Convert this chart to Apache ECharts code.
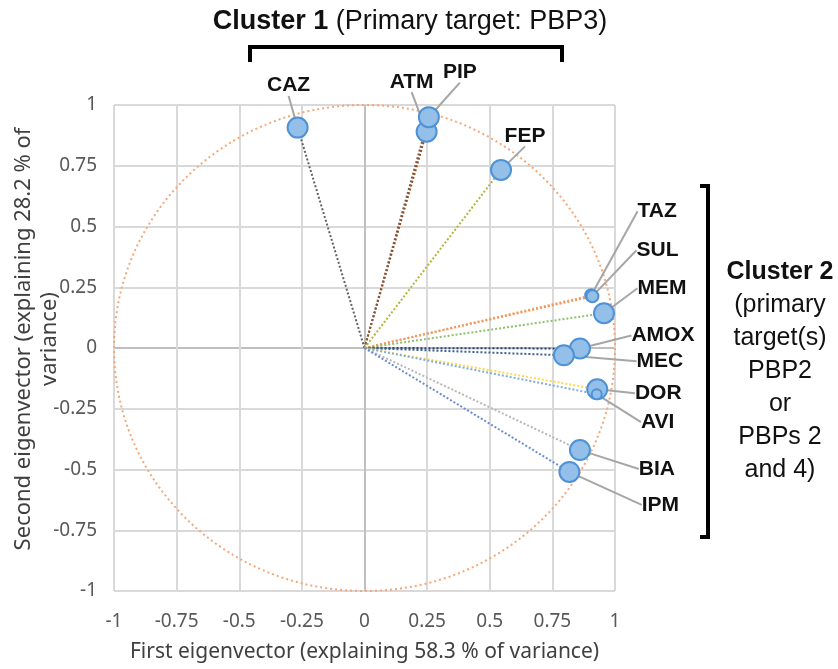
<!DOCTYPE html>
<html>
<head>
<meta charset="utf-8">
<script src="https://cdn.jsdelivr.net/npm/echarts@6/dist/echarts.min.js"></script>
<style>
html, body { margin: 0; background: #fff; }
#chart { width: 838px; height: 669px; }
</style>
</head>
<body>
<div id="chart"></div>
<script>
// loadings of each drug on the first two eigenvectors
var drugs = ['CAZ', 'ATM', 'PIP', 'FEP', 'TAZ', 'SUL', 'MEM', 'AMOX', 'MEC', 'DOR', 'AVI', 'BIA', 'IPM'];
var eigen1 = [-0.267, 0.248, 0.257, 0.545, 0.905, 0.91, 0.956, 0.86, 0.796, 0.929, 0.927, 0.86, 0.818];
var eigen2 = [0.907, 0.89, 0.95, 0.733, 0.217, 0.213, 0.143, -0.002, -0.03, -0.17, -0.19, -0.42, -0.51];
var bubble = [1, 1, 1, 1, 0.6, 0.6, 1, 1, 1, 1, 0.5, 1, 1];
var ticks = [-1, -0.75, -0.5, -0.25, 0, 0.25, 0.5, 0.75, 1];

// styling / layout (not data)
var rayColors = ['#636363', '#9e480e', '#7a5a4a', '#b5b53a', '#f4a777', '#f1975a', '#8cc168',
                 '#264478', '#3f5f8f', '#ffd84d', '#7cafdd', '#b7b7b7', '#698ed0'];
var labelOffset = [[-9, -42], [-15, -50], [31, -45], [24, -34], [66, -84], [65, -46], [58, -25],
                   [83, -13], [96, 6], [61, 4], [61, 28], [77, 19], [91, 33]];

var chart = echarts.init(document.getElementById('chart'));

var gridLine = [];
ticks.forEach(function (t) { gridLine.push(t === 0 ? '#bfbfbf' : '#d9d9d9'); });

function axis() {
  return {
    type: 'value',
    min: ticks[0],
    max: ticks[ticks.length - 1],
    interval: ticks[1] - ticks[0],
    axisLine: { show: false },
    axisTick: { show: false },
    splitLine: { show: true, lineStyle: { color: gridLine, width: 2 } },
    axisLabel: { color: '#595959', fontSize: 19, fontFamily: 'Noto Sans' }
  };
}

var xAxis = axis();
xAxis.axisLabel.margin = 21;
xAxis.name = 'First eigenvector (explaining 58.3 % of variance)';
xAxis.nameLocation = 'middle';
xAxis.nameGap = 51;
xAxis.nameTextStyle = { color: '#404040', fontSize: 21, fontFamily: 'Noto Sans' };
var yAxis = axis();
yAxis.axisLabel.margin = 17;

var series = [];
drugs.forEach(function (d, i) {
  series.push({
    type: 'line',
    name: d,
    data: [[0, 0], [eigen1[i], eigen2[i]]],
    symbol: 'none',
    silent: true,
    animation: false,
    z: 2,
    lineStyle: { type: [2, 2], width: 2, color: rayColors[i] }
  });
});

series.push({
  type: 'scatter',
  animation: false,
  z: 5,
  data: drugs.map(function (d, i) { return { name: d, value: [eigen1[i], eigen2[i]] }; }),
  symbolSize: function (v, p) { return 20 * bubble[p.dataIndex]; },
  itemStyle: { color: '#93bfe8', borderColor: '#4e92d6', borderWidth: 2, opacity: 1 },
  label: {
    show: true,
    formatter: '{b}',
    position: 'inside',
    color: '#111',
    fontSize: 21,
    fontWeight: 'bold',
    fontFamily: 'Liberation Sans'
  },
  labelLayout: function (p) {
    var o = labelOffset[p.dataIndex];
    return { dx: o[0], dy: o[1] };
  },
  labelLine: { show: true, lineStyle: { color: '#a6a6a6', width: 2 } }
});

chart.setOption({
  animation: false,
  backgroundColor: '#fff',
  grid: { left: 114, right: 223, top: 105, bottom: 78 },
  xAxis: xAxis,
  yAxis: yAxis,
  series: series
});

// unit circle, cluster brackets and annotations
var c0 = chart.convertToPixel({ gridIndex: 0 }, [0, 0]);
var c1 = chart.convertToPixel({ gridIndex: 0 }, [1, 1]);
chart.setOption({
  graphic: [
    {
      type: 'ellipse',
      z: 1,
      silent: true,
      shape: { cx: c0[0], cy: c0[1], rx: c1[0] - c0[0], ry: c0[1] - c1[1] },
      style: { fill: 'none', stroke: '#f4a777', lineWidth: 2, lineDash: [2, 3] }
    },
    {
      type: 'text',
      x: 37, y: 339,
      rotation: Math.PI / 2,
      style: {
        text: 'Second eigenvector (explaining 28.2 % of\nvariance)',
        align: 'center', verticalAlign: 'middle',
        font: '22px "Noto Sans"', fill: '#404040', lineHeight: 26
      }
    },
    {
      type: 'text',
      x: 410, y: 22,
      style: {
        text: '{b|Cluster 1}{n| (Primary target: PBP3)}',
        align: 'center', verticalAlign: 'middle',
        rich: {
          b: { font: 'bold 27px "Liberation Sans"', fill: '#111' },
          n: { font: '27px "Liberation Sans"', fill: '#111' }
        }
      }
    },
    {
      type: 'polyline',
      shape: { points: [[250, 62], [250, 47], [562, 47], [562, 62]] },
      style: { stroke: '#000', lineWidth: 4, fill: 'none' }
    },
    {
      type: 'polyline',
      shape: { points: [[700, 186], [708, 186], [708, 537], [700, 537]] },
      style: { stroke: '#000', lineWidth: 4, fill: 'none' }
    },
    {
      type: 'text',
      x: 780, y: 371,
      style: {
        text: '{b|Cluster 2}\n{n|(primary}\n{n|target(s)}\n{n|PBP2}\n{n|or}\n{n|PBPs 2}\n{n|and 4)}',
        align: 'center', verticalAlign: 'middle',
        rich: {
          b: { font: 'bold 25px "Liberation Sans"', fill: '#111', lineHeight: 33, align: 'center' },
          n: { font: '25px "Liberation Sans"', fill: '#111', lineHeight: 33, align: 'center' }
        }
      }
    }
  ]
});
</script>
</body>
</html>
